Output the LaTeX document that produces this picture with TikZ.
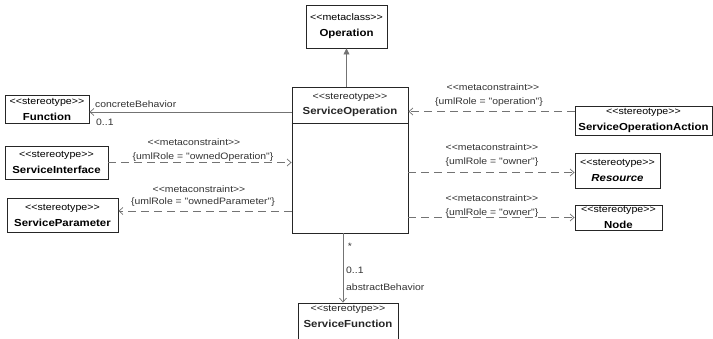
\documentclass[tikz,border=0pt]{standalone}
\usepackage{fontspec}
\newfontfamily\uml[FakeStretch=1.12]{Liberation Sans}
\usetikzlibrary{arrows.meta,calc}
\newcommand{\stt}{\uml\fontsize{9.5}{16}\selectfont}
\newcommand{\nmm}{\uml\bfseries\fontsize{10.2}{16}\selectfont}
\newcommand{\lbl}{\uml\fontsize{9.3}{11}\selectfont}
\begin{document}
\begin{tikzpicture}[x=1pt,y=-1pt,
  box/.style={draw=black!85,line width=0.9pt,inner sep=0pt,align=center,font=\stt},
  txt/.style={inner sep=0pt,text=black!85},
  lab/.style={inner sep=0pt,font=\lbl,text=black!80},
  assoc/.style={draw=black!55,line width=0.7pt,-{Straight Barb[length=4pt,width=7pt]}},
  dep/.style={assoc,dash pattern=on 8pt off 5pt},
  ext/.style={draw=black!55,line width=0.7pt,-{Triangle[length=6pt,width=6pt]}}]
\useasboundingbox (0,0) rectangle (713,339);

% boxes
\node[box,minimum width=81,minimum height=43] (op) at (346.5,26.5) {{\stt <<metaclass>>}\\{\nmm Operation}};
\node[box,minimum width=116,minimum height=146] (SO) at (350,160) {};
\node[txt,font=\stt] (sost) at (350,97) {<<stereotype>>};
\node[txt,font=\nmm] (sonm) at (350,112) {ServiceOperation};
\draw[black!85,line width=0.9pt] (SO.west |- 0,123) -- (SO.east |- 0,123);

\node[box,minimum width=84,minimum height=28] (fn) at (47,109) {{\stt <<stereotype>>}\\{\nmm Function}};
\node[box,minimum width=103,minimum height=33] (si) at (56.5,162.5) {{\stt <<stereotype>>}\\{\nmm ServiceInterface}};
\node[box,minimum width=111,minimum height=34] (sp) at (62.5,215) {{\stt <<stereotype>>}\\{\nmm ServiceParameter}};
\node[box,minimum width=137,minimum height=29] (soa) at (643.5,120.5) {{\stt <<stereotype>>}\\{\nmm ServiceOperationAction}};
\node[box,minimum width=85,minimum height=35] (res) at (617.5,170.5) {{\stt <<stereotype>>}\\{\nmm\itshape Resource}};
\node[box,minimum width=87,minimum height=25] (nd) at (618.5,217.5) {{\stt <<stereotype>>}\\{\nmm Node}};
\node[box,minimum width=100,minimum height=42] (sf) at (348,324) {};
\node[txt,font=\stt] (sfst) at (348,309) {<<stereotype>>};
\node[txt,font=\nmm] (sfnm) at (348,324) {ServiceFunction};

% connectors
\draw[ext] (SO.north -| op.south) -- (op.south);

\path ($(fn.east)+(0,3)$) coordinate (fa);
\draw[assoc] (SO.west |- fa) -- (fa);
\node[lab,anchor=west] (cb) at (95,104) {concreteBehavior};
\node[lab,anchor=west] (cbm) at (96,122) {0..1};

\draw[dep] (si.east) -- (si.east -| SO.west);
\node[lab] (si1) at (194,142) {<<metaconstraint>>};
\node[lab] (si2) at (203,157) {\{umlRole = "ownedOperation"\}};

\path ($(sp.east)+(0,-4)$) coordinate (spa);
\draw[dep] (SO.west |- spa) -- (spa);
\node[lab] (sp1) at (199,189) {<<metaconstraint>>};
\node[lab] (sp2) at (203,202) {\{umlRole = "ownedParameter"\}};

\path ($(soa.west)+(0,-9)$) coordinate (soaa);
\draw[dep] (soaa) -- (soaa -| SO.east);
\node[lab] (so1) at (493,87) {<<metaconstraint>>};
\node[lab] (so2) at (489,102) {\{umlRole = "operation"\}};

\path ($(res.west)+(0,2)$) coordinate (resa);
\draw[dep] (SO.east |- resa) -- (resa);
\node[lab] (re1) at (492,147) {<<metaconstraint>>};
\node[lab] (re2) at (492,162) {\{umlRole = "owner"\}};

\draw[dep] (SO.east |- nd.west) -- (nd.west);
\node[lab] (nd1) at (492,198) {<<metaconstraint>>};
\node[lab] (nd2) at (492,213) {\{umlRole = "owner"\}};

\path ($(sf.north)+(-5,0)$) coordinate (sfa);
\draw[assoc] (SO.south -| sfa) -- (sfa);
\node[lab] (star) at (350,246) {*};
\node[lab,anchor=west] (sfm) at (346,270) {0..1};
\node[lab,anchor=west] (ab) at (346,287) {abstractBehavior};
\end{tikzpicture}
\end{document}
